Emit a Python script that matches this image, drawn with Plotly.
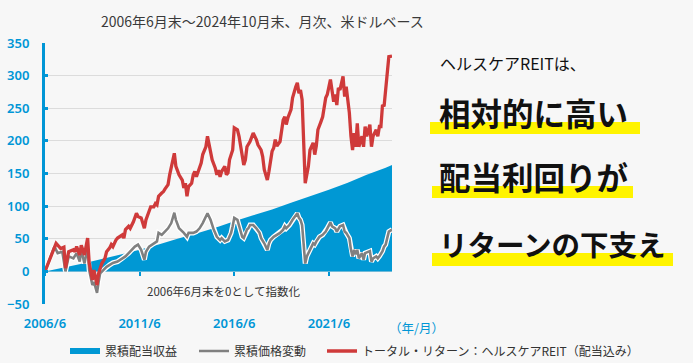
import plotly.graph_objects as go

# ---------------- data ----------------
div_dates = ["2006-06", "2007-06", "2008-06", "2009-06", "2010-06", "2011-06", "2012-06",
             "2013-06", "2014-06", "2015-06", "2016-06", "2017-06", "2018-06", "2019-06",
             "2020-06", "2021-06", "2022-06", "2023-06", "2024-06", "2024-10"]
div_vals = [0, 6, 12, 19, 26, 33, 41, 50, 58, 67, 77, 86, 95, 105, 115, 125, 136, 148, 159, 163]

price_dates = ["2006-06", "2006-12", "2007-02", "2007-05", "2007-07", "2007-09", "2007-12", "2008-02",
               "2008-04", "2008-05", "2008-07", "2008-09", "2008-10", "2008-12", "2009-01", "2009-03",
               "2009-04", "2009-05", "2009-07", "2009-09", "2009-11", "2010-01", "2010-04", "2010-07",
               "2010-09", "2010-11", "2011-01", "2011-03", "2011-05", "2011-07", "2011-09", "2011-10",
               "2011-12", "2012-03", "2012-05", "2012-06", "2012-08", "2012-10", "2012-12", "2013-02",
               "2013-03", "2013-04", "2013-05", "2013-07", "2013-10", "2013-12", "2014-01", "2014-04",
               "2014-06", "2014-08", "2014-10", "2014-12", "2015-01", "2015-03", "2015-05", "2015-07",
               "2015-09", "2015-10", "2015-12", "2016-02", "2016-04", "2016-05", "2016-06", "2016-08",
               "2016-09", "2016-11", "2016-12", "2017-02", "2017-03", "2017-04", "2017-06", "2017-08",
               "2017-10", "2017-11", "2018-01", "2018-03", "2018-04", "2018-05", "2018-07", "2018-11",
               "2019-01", "2019-02", "2019-03", "2019-05", "2019-07", "2019-09", "2019-10", "2019-11",
               "2019-12", "2020-01", "2020-02", "2020-03", "2020-04", "2020-06", "2020-08", "2020-09",
               "2020-10", "2020-12", "2021-02", "2021-04", "2021-05", "2021-07", "2021-08", "2021-10",
               "2021-11", "2021-12", "2022-01", "2022-03", "2022-04", "2022-05", "2022-07", "2022-08",
               "2022-09", "2022-10", "2022-11", "2022-12", "2023-01", "2023-03", "2023-04", "2023-05",
               "2023-08", "2023-09", "2023-10", "2023-12", "2024-01", "2024-02", "2024-03", "2024-04",
               "2024-05", "2024-06", "2024-07", "2024-08", "2024-10"]
price_vals = [0, 38, 28, 30, 0, 23, 20, 28,
              15, 33, 12, 36, 2, -21, -16, -33,
              -16, -3, 2, 7, 10, 13, 15, 20,
              23, 28, 33, 38, 41, 33, 18, 30,
              38, 43, 46, 59, 56, 61, 66, 74,
              84, 90, 79, 66, 59, 53, 59, 59,
              61, 66, 74, 84, 89, 79, 64, 53,
              48, 51, 46, 48, 59, 69, 82, 79,
              69, 53, 51, 64, 66, 71, 71, 66,
              59, 51, 43, 33, 43, 48, 53, 59,
              64, 69, 66, 71, 79, 87, 89, 82,
              79, 71, 38, 12, 23, 33, 43, 41,
              46, 53, 56, 61, 66, 75, 69, 66,
              61, 66, 69, 71, 61, 59, 51, 33,
              23, 33, 26, 33, 20, 28, 18, 28,
              31, 15, 20, 23, 20, 23, 26, 31,
              38, 41, 51, 61, 64]

tr_dates = ["2006-06", "2007-01", "2007-04", "2007-06", "2007-07", "2007-09", "2007-12", "2008-01",
            "2008-02", "2008-04", "2008-05", "2008-06", "2008-07", "2008-09", "2008-10", "2008-12",
            "2009-01", "2009-03", "2009-04", "2009-06", "2009-08", "2009-09", "2009-11", "2009-12",
            "2010-01", "2010-03", "2010-04", "2010-07", "2010-08", "2010-09", "2010-11", "2010-12",
            "2011-02", "2011-04", "2011-05", "2011-07", "2011-09", "2011-10", "2011-12", "2012-01",
            "2012-03", "2012-04", "2012-05", "2012-06", "2012-08", "2012-09", "2012-10", "2012-12",
            "2013-01", "2013-02", "2013-04", "2013-05", "2013-07", "2013-09", "2013-10", "2013-11",
            "2013-12", "2014-01", "2014-03", "2014-04", "2014-05", "2014-06", "2014-07", "2014-08",
            "2014-09", "2014-10", "2014-12", "2015-01", "2015-03", "2015-04", "2015-06", "2015-07",
            "2015-08", "2015-09", "2015-10", "2015-12", "2016-01", "2016-02", "2016-03", "2016-05",
            "2016-06", "2016-08", "2016-09", "2016-11", "2016-12", "2017-01", "2017-02", "2017-04",
            "2017-05", "2017-06", "2017-08", "2017-09", "2017-11", "2017-12", "2018-01", "2018-03",
            "2018-04", "2018-06", "2018-07", "2018-08", "2018-09", "2018-11", "2019-01", "2019-02",
            "2019-03", "2019-04", "2019-06", "2019-07", "2019-09", "2019-10", "2019-11", "2019-12",
            "2020-01", "2020-02", "2020-03", "2020-05", "2020-06", "2020-08", "2020-09", "2020-10",
            "2020-11", "2021-01", "2021-02", "2021-04", "2021-05", "2021-07", "2021-08", "2021-09",
            "2021-10", "2021-11", "2021-12", "2022-01", "2022-03", "2022-04", "2022-05", "2022-06",
            "2022-07", "2022-08", "2022-09", "2022-10", "2022-11", "2022-12", "2023-01", "2023-03",
            "2023-04", "2023-05", "2023-06", "2023-08", "2023-09", "2023-10", "2023-12", "2024-01",
            "2024-02", "2024-03", "2024-04", "2024-05", "2024-06", "2024-07", "2024-08", "2024-10"]
tr_vals = [0, 43, 35, 37, 5, 30, 33, 30,
           38, 25, 40, 30, 25, 51, 13, -13,
           2, -21, -3, 12, 20, 30, 36, 41,
           38, 48, 51, 56, 51, 64, 69, 66,
           76, 89, 84, 82, 66, 79, 92, 99,
           99, 104, 102, 115, 120, 122, 126, 133,
           148, 161, 181, 161, 148, 140, 128, 135,
           115, 130, 135, 148, 153, 145, 153, 161,
           166, 179, 191, 207, 184, 171, 158, 148,
           155, 145, 153, 161, 148, 151, 171, 186,
           220, 217, 207, 179, 163, 171, 191, 199,
           204, 212, 202, 194, 186, 176, 156, 140,
           153, 184, 189, 202, 192, 199, 232, 237,
           225, 235, 248, 266, 283, 289, 273, 278,
           263, 207, 135, 161, 186, 197, 179, 192,
           217, 230, 237, 266, 271, 294, 278, 260,
           271, 255, 281, 278, 299, 268, 283, 263,
           243, 207, 186, 212, 191, 227, 191, 207,
           191, 222, 207, 225, 191, 207, 217, 207,
           222, 222, 255, 253, 283, 314, 329, 330]

tick_dates = ["2006-06", "2011-06", "2016-06", "2021-06"]
tick_text = ["2006/6", "2011/6", "2016/6", "2021/6"]
y_ticks = [-50, 0, 50, 100, 150, 200, 250, 300, 350]

name_div = "累積配当収益"
name_price = "累積価格変動"
name_tr = "トータル・リターン：ヘルスケアREIT（配当込み）"

# ---------------- styling ----------------
BLUE = "#0096d6"
FILL = "#0098d4"
GRAY = "#808080"
RED = "#cf3a3a"
BG = "#f7f7f7"
FONT = "Noto Sans CJK JP"
W, H = 693, 363
L, R, T, B = 45, 301, 43, 59
PW, PH = W - L - R, H - T - B


def px(x):
    return (x - L) / PW


def py(y):
    return (H - B - y) / PH


fig = go.Figure()
fig.add_trace(go.Scatter(x=div_dates, y=div_vals, fill="tozeroy", mode="none",
                         fillcolor=FILL, name=name_div, hoverinfo="skip", legend="legend"))
fig.add_trace(go.Scatter(x=price_dates, y=price_vals, mode="lines",
                         line=dict(color="white", width=5), showlegend=False, hoverinfo="skip"))
fig.add_trace(go.Scatter(x=price_dates, y=price_vals, mode="lines",
                         line=dict(color=GRAY, width=2.6), name=name_price, legend="legend2"))
fig.add_trace(go.Scatter(x=tr_dates, y=tr_vals, mode="lines",
                         line=dict(color=RED, width=3.3), name=name_tr, legend="legend3"))
# helper (invisible) trace so that the zero-level tick axis is drawn
fig.add_trace(go.Scatter(x=div_dates[:1], y=[0], mode="markers", marker=dict(opacity=0),
                         xaxis="x2", showlegend=False, hoverinfo="skip"))

annotations = [
    dict(text="2006年6月末～2024年10月末、月次、米ドルベース", x=px(262), y=py(21),
         font=dict(size=14, color="#3a3a3a")),
    dict(text="2006年6月末を0として指数化", x=px(224), y=py(291),
         font=dict(size=11.5, color="#333333")),
    dict(text="（年/月）", x=px(416), y=py(328), font=dict(size=12.5, color=BLUE)),
    dict(text="ヘルスケアREITは、", x=px(438), y=py(63), xanchor="left",
         font=dict(size=16, color="#111111")),
    dict(text="<b>相対的に高い</b>", x=px(437), y=py(112), xanchor="left",
         font=dict(size=31.5, color="#111111")),
    dict(text="<b>配当利回りが</b>", x=px(437), y=py(176), xanchor="left",
         font=dict(size=31.5, color="#111111")),
    dict(text="<b>リターンの下支え</b>", x=px(437), y=py(243), xanchor="left",
         font=dict(size=28.5, color="#111111")),
]
for a in annotations:
    a.setdefault("xanchor", "center")
    a.update(xref="paper", yref="paper", yanchor="middle", showarrow=False)
    a["font"]["family"] = FONT

shapes = []
for x0, x1, y0, y1 in [(430, 640, 122, 134), (432, 633, 186, 198), (432, 673, 253, 266)]:
    shapes.append(dict(type="rect", xref="paper", yref="paper", x0=px(x0), x1=px(x1),
                       y0=py(y1), y1=py(y0), fillcolor="#fff400", line=dict(width=0),
                       layer="above"))


def legend_at(x_left):
    return dict(orientation="h", x=px(x_left), y=py(351), xanchor="left", yanchor="middle",
                font=dict(size=12, color="#333333", family=FONT),
                bgcolor="rgba(0,0,0,0)", itemwidth=30)


tickfont = dict(size=13, color=BLUE, family="Noto Sans", weight=600)

fig.update_layout(
    width=W, height=H,
    margin=dict(l=L, r=R, t=T, b=B, pad=0, autoexpand=False),
    paper_bgcolor=BG, plot_bgcolor=BG,
    font=dict(family=FONT, color="#333333"),
    showlegend=True,
    legend=legend_at(65),
    legend2=legend_at(194),
    legend3=legend_at(322),
    xaxis=dict(type="date", range=["2006-06-01", "2024-10-01"], automargin=False,
               tickvals=tick_dates, ticktext=tick_text,
               showgrid=False, zeroline=False, showline=False,
               ticks="outside", ticklen=0, tickcolor="rgba(0,0,0,0)",
               ticklabelstandoff=7, tickfont=tickfont),
    xaxis2=dict(type="date", matches="x", overlaying="x", anchor="free", position=0.125,
                side="bottom", tickvals=tick_dates, showticklabels=False, automargin=False,
                ticks="outside", ticklen=4, tickwidth=2, tickcolor=BLUE,
                showgrid=False, zeroline=False, showline=False),
    yaxis=dict(range=[-50, 350], tickvals=y_ticks, automargin=False,
               showgrid=True, gridcolor="#dcdcdc", gridwidth=1,
               zeroline=False, showline=True, linecolor=BLUE, linewidth=3,
               ticks="inside", ticklen=3, tickwidth=3, tickcolor=BLUE,
               ticklabelstandoff=10, tickfont=tickfont),
    annotations=annotations,
    shapes=shapes,
)

fig.write_html(
    "out.html",
    config={"displayModeBar": False},
    post_script="document.body.style.margin='0';document.body.style.overflow='hidden';"
                "document.body.style.background='" + BG + "';",
)
